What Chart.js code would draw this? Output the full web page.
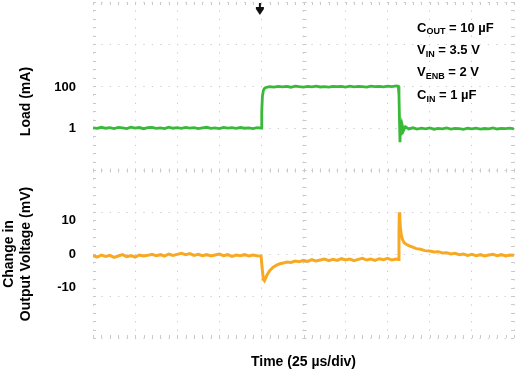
<!DOCTYPE html>
<html>
<head>
<meta charset="utf-8">
<script src="https://cdn.jsdelivr.net/npm/chart.js@4.4.1/dist/chart.umd.min.js"></script>
<style>
  html, body { margin: 0; padding: 0; background: #fff; }
</style>
</head>
<body>
<canvas id="scope" width="519" height="369"></canvas>
<script>
'use strict';

/* DATA */

// load current trace, time in us, current in mA
const loadTime = [0, 2.5, 5, 7.5, 10, 12.5, 15, 17.5, 20, 22.5, 25, 27.5, 30, 32.5, 35, 37.5, 40, 42.5, 45, 47.5,
  50, 52.5, 55, 57.5, 60, 62.5, 65, 67.5, 70, 72.5, 75, 77.5, 80, 82.5, 85, 87.5, 90, 92.5, 95, 97.5, 99.8,
  100.2, 100.6, 101.2, 102, 103,
  105, 107.5, 110, 112.5, 115, 117.5, 120, 122.5, 125, 127.5, 130, 132.5, 135, 137.5, 140, 142.5, 145, 147.5,
  150, 152.5, 155, 157.5, 160, 162.5, 165, 167.5, 170, 172.5, 175, 177.5, 180, 181.3,
  181.7, 182, 182.3, 182.6, 183, 183.6, 184.4, 185.5,
  187.5, 190, 192.5, 195, 197.5, 200, 202.5, 205, 207.5, 210, 212.5, 215, 217.5, 220, 222.5, 225, 227.5,
  230, 232.5, 235, 237.5, 240, 242.5, 245, 247.5, 250];
const loadMa = [1.02, 0.95, 1.08, 0.97, 1.04, 0.93, 1.06, 1.0, 0.94, 1.09, 0.98, 1.05, 0.92, 1.03, 1.07, 0.96, 1.01, 0.94, 1.1, 0.97,
  1.03, 0.95, 1.06, 0.99, 1.04, 0.93, 1.02, 1.08, 0.96, 1.01, 0.94, 1.07, 0.98, 1.03, 0.95, 1.05, 0.97, 1.02, 0.94, 1.04, 0.98,
  6, 35, 70, 88, 97,
  104, 99, 108, 101, 106, 97, 110, 103, 99, 107, 102, 109, 100, 105, 98, 108, 103, 106,
  99, 110, 102, 107, 104, 98, 109, 103, 107, 101, 111, 105, 112, 108,
  40, 2.5, 0.2, 1.9, 0.45, 1.4, 0.75, 1.15,
  0.9, 1.02, 0.88, 0.97, 0.9, 1.0, 0.87, 0.95, 0.91, 1.01, 0.89, 0.96, 0.92, 0.86, 0.97, 0.91, 0.99,
  0.88, 0.94, 0.9, 1.0, 0.89, 0.95, 0.92, 0.98, 0.9];

// output voltage change trace, time in us, deviation in mV
const voutTime = [0, 2.5, 5, 7.5, 10, 12.5, 15, 17.5, 20, 22.5, 25, 27.5, 30, 32.5, 35, 37.5, 40, 42.5, 45, 47.5,
  50, 52.5, 55, 57.5, 60, 62.5, 65, 67.5, 70, 72.5, 75, 77.5, 80, 82.5, 85, 87.5, 90, 92.5, 95, 97.5, 99.8,
  100.5, 101.2, 101.8, 102.5, 103.5, 105, 107, 109, 111, 113, 115, 117.5, 120, 122.5, 125, 127.5, 130, 132.5,
  135, 137.5, 140, 142.5, 145, 147.5, 150, 152.5, 155, 157.5, 160, 162.5, 165, 167.5, 170, 172.5, 175, 177.5, 180, 181.3,
  181.7, 181.9, 182.2, 182.6, 183, 183.8, 184.7, 186, 187.5, 189.5, 192, 194.5, 197, 200, 202.5, 205, 207.5, 210,
  212.5, 215, 217.5, 220, 222.5, 225, 227.5, 230, 232.5, 235, 237.5, 240, 242.5, 245, 247.5, 250];
const voutMv = [-0.5, -0.9, -0.3, -0.7, -0.4, -1.0, -0.6, -0.2, -0.8, -0.5, -0.9, -0.3, -0.6, -0.4, -0.1, -0.5, -0.2, -0.6, 0.0, -0.4,
  -0.1, 0.2, -0.2, 0.1, -0.4, -0.1, -0.5, -0.2, -0.6, -0.3, 0.0, -0.5, -0.2, -0.7, -0.3, -0.5, -0.2, -0.6, -0.3, -0.5, -0.6,
  -4.5, -7.6, -8.0, -7.2, -6.1, -4.9, -3.9, -3.3, -2.9, -2.7, -2.4, -2.5, -2.1, -2.3, -1.9, -2.2, -1.7, -2.1,
  -1.8, -1.5, -2.0, -1.6, -1.9, -1.4, -1.8, -1.5, -2.0, -1.6, -1.3, -1.8, -1.5, -1.9, -1.4, -1.7, -1.3, -1.8, -1.5, -1.6,
  6, 12.4, 10.5, 7.5, 5.8, 4.3, 3.4, 2.9, 2.5, 2.1, 1.6, 1.4, 1.0, 0.9, 0.6, 0.7, 0.3, 0.4,
  0.0, 0.2, -0.2, 0.0, -0.4, -0.1, -0.5, -0.2, -0.6, -0.3, -0.1, -0.5, -0.2, -0.6, -0.3, -0.4];

const loadTicks = [1, 100];
const voutTicks = [-10, 0, 10];
const triggerTime = 100;

// conditions box, [text, isSubscript]
const notes = [
  [['C', false], ['OUT', true], [' = 10 µF', false]],
  [['V', false], ['IN', true], [' = 3.5 V', false]],
  [['V', false], ['ENB', true], [' = 2 V', false]],
  [['C', false], ['IN', true], [' = 1 µF', false]]
];

/* STYLE */

const FONT = '"Liberation Sans", Arial, Helvetica, sans-serif';
const GRID = '#c9c9cc';
const DOTS = [1.2, 7.2];

/* SCOPE DECORATION: minor ticks, trigger arrow, notes */

const scopeDecor = {
  id: 'scopeDecor',
  beforeDatasetsDraw(chart) {
    const {ctx, chartArea: a, scales: {x, yg}} = chart;
    const cx = Math.round(x.getPixelForValue(125)) + 0.5;
    const cy = Math.round(yg.getPixelForValue(4)) + 0.5;
    ctx.save();
    ctx.strokeStyle = GRID;
    ctx.lineWidth = 1;
    ctx.beginPath();
    for (let t = 0; t <= 250; t += 5) {
      const px = Math.round(x.getPixelForValue(t)) + 0.5;
      ctx.moveTo(px, cy - 2); ctx.lineTo(px, cy + 2);
      ctx.moveTo(px, a.bottom); ctx.lineTo(px, a.bottom - 3);
      ctx.moveTo(px, a.top); ctx.lineTo(px, a.top + 3);
    }
    for (let i = 0; i <= 40; i++) {
      const py = Math.round(yg.getPixelForValue(i / 5)) + 0.5;
      ctx.moveTo(cx - 2, py); ctx.lineTo(cx + 2, py);
      ctx.moveTo(a.left, py); ctx.lineTo(a.left + 3, py);
      ctx.moveTo(a.right, py); ctx.lineTo(a.right - 3, py);
    }
    ctx.stroke();
    ctx.restore();
  },
  afterDatasetsDraw(chart) {
    const {ctx, chartArea: a, scales: {x}} = chart;

    // trigger marker
    const tx = x.getPixelForValue(triggerTime) - 1.5;
    ctx.save();
    ctx.fillStyle = '#111';
    ctx.fillRect(tx - 1, a.top + 1, 2, 7);
    ctx.fillRect(tx - 4, a.top + 5, 8, 2);
    ctx.beginPath();
    ctx.moveTo(tx - 4, a.top + 7);
    ctx.lineTo(tx + 4, a.top + 7);
    ctx.lineTo(tx, a.top + 13);
    ctx.closePath();
    ctx.fill();

    // conditions
    ctx.fillStyle = '#000';
    ctx.textBaseline = 'middle';
    notes.forEach(function(line, i) {
      let px = a.right - 97;
      const py = a.top + 26 + i * 22.4;
      for (const [txt, sub] of line) {
        ctx.font = sub ? 'bold 9px ' + FONT : 'bold 13px ' + FONT;
        ctx.fillText(txt, px, sub ? py + 4 : py);
        px += ctx.measureText(txt).width;
      }
    });
    ctx.restore();
  }
};

/* CHART */

const toPoints = (xs, ys) => xs.map((t, i) => ({x: t, y: ys[i]}));

// left axes: fixed width, no extra label padding above/below the plot
const fitLeft = function(s) {
  s.width = 93;
  s.paddingTop = 0;
  s.paddingBottom = 0;
};

const ctx = document.getElementById('scope').getContext('2d');
const chart = new Chart(ctx, {
  type: 'line',
  data: {
    datasets: [{
      label: 'Load',
      data: toPoints(loadTime, loadMa),
      yAxisID: 'yLoad',
      borderColor: '#38ba38',
      borderWidth: 2.8,
    },
    {
      label: 'Output voltage',
      data: toPoints(voutTime, voutMv),
      yAxisID: 'yV',
      borderColor: '#f8a923',
      borderWidth: 3,
    }]
  },
  options: {
    responsive: false,
    animation: false,
    devicePixelRatio: 1,
    layout: { padding: { left: 0, right: 5, top: 2, bottom: 0 } },
    elements: { point: { radius: 0 }, line: { tension: 0 } },
    plugins: { legend: { display: false }, tooltip: { enabled: false } },
    scales: {
      x: {
        type: 'linear',
        min: 0,
        max: 250,
        ticks: { display: false, stepSize: 25 },
        grid: { color: GRID, drawTicks: false },
        border: { display: false, dash: DOTS },
        title: {
          display: true,
          text: 'Time (25 µs/div)',
          color: '#000',
          font: { family: FONT, size: 14, weight: 'bold', lineHeight: 1 },
          padding: 0
        },
        afterFit: s => { s.height = 31; }
      },
      yg: {
        type: 'linear',
        position: 'right',
        min: 0,
        max: 8,
        ticks: { display: false, stepSize: 1 },
        grid: { color: GRID, drawTicks: false },
        border: { display: false, dash: DOTS }
      },
      yLoad: {
        type: 'logarithmic',
        position: 'left',
        stack: 'left',
        weight: 1,
        min: 0.0089,
        max: 1.4e6,
        afterBuildTicks: s => { s.ticks = loadTicks.map(v => ({value: v})); },
        ticks: {
          autoSkip: false,
          padding: 17,
          color: '#000',
          font: { family: FONT, size: 13, weight: 'bold' },
          callback: v => String(v)
        },
        grid: { display: false, drawTicks: false },
        border: { display: false },
        title: {
          display: true,
          text: 'Load (mA)        ',
          color: '#000',
          font: { family: FONT, size: 14, weight: 'bold', lineHeight: 1.25 },
          padding: { top: 17.5, bottom: 0 }
        },
        afterFit: fitLeft
      },
      yV: {
        type: 'linear',
        position: 'left',
        stack: 'left',
        weight: 0,
        min: -25,
        max: 25,
        afterBuildTicks: s => { s.ticks = voutTicks.map(v => ({value: v})); },
        ticks: {
          autoSkip: false,
          padding: 17,
          color: '#000',
          font: { family: FONT, size: 13, weight: 'bold' },
          callback: v => String(v)
        },
        grid: { display: false, drawTicks: false },
        border: { display: false },
        title: {
          display: true,
          text: ['Change in', 'Output Voltage (mV)'],
          color: '#000',
          font: { family: FONT, size: 14, weight: 'bold', lineHeight: 1.25 },
          padding: { top: 0, bottom: 0 }
        },
        afterFit: fitLeft
      }
    }
  },
  plugins: [scopeDecor]
});
</script>
</body>
</html>
